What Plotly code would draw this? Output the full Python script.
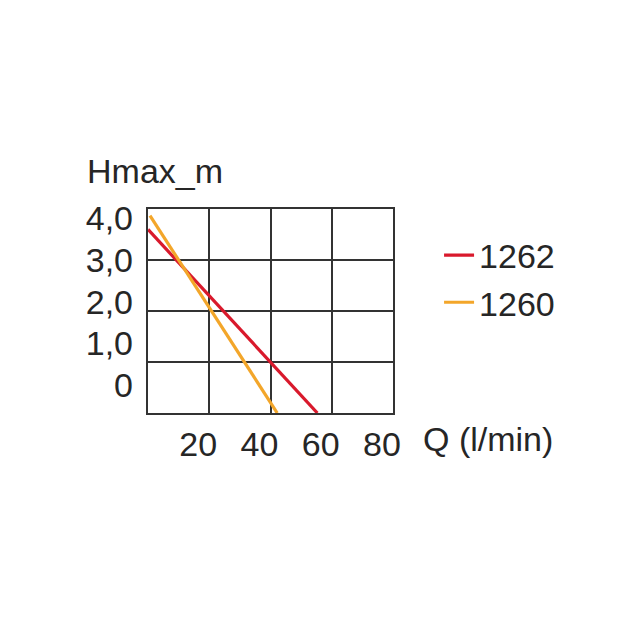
import plotly.graph_objects as go

# Data
series_names = ["1262", "1260"]
q_1262 = [0, 55.3]
h_1262 = [3.6, 0]
q_1260 = [0.65, 42.2]
h_1260 = [3.87, 0]

x_tickvals = [20, 40, 60, 80]
x_ticktext = ["20", "40", "60", "80"]
y_grid = [0, 1, 2, 3, 4]
y_label_vals = [0, 1, 2, 3, 4]
y_label_text = ["0", "1,0", "2,0", "3,0", "4,0"]

RED = "#d9192c"
ORANGE = "#f3a62a"
TXT = "#262626"
GRID = "#333333"
FONT = "Liberation Sans, Arial, sans-serif"
FS = 34

fig = go.Figure()
fig.add_trace(go.Scatter(x=q_1262, y=h_1262, mode="lines", name=series_names[0],
                         line=dict(color=RED, width=3.2), hoverinfo="skip"))
fig.add_trace(go.Scatter(x=q_1260, y=h_1260, mode="lines", name=series_names[1],
                         line=dict(color=ORANGE, width=3.2), hoverinfo="skip"))
# invisible trace to carry the label axis
fig.add_trace(go.Scatter(x=[None], y=[None], yaxis="y2", showlegend=False,
                         hoverinfo="skip"))

fig.update_layout(
    width=630, height=630,
    margin=dict(l=140, r=245, t=201, b=225),
    paper_bgcolor="white", plot_bgcolor="white",
    font=dict(family=FONT, size=FS, color=TXT),
    xaxis=dict(range=[0, 80], tickmode="array", tickvals=x_tickvals, ticktext=x_ticktext,
               showgrid=True, gridcolor=GRID, gridwidth=2,
               showline=True, linecolor=GRID, linewidth=2, mirror=True,
               ticks="", zeroline=False, ticklabelshift=-11, ticklabelstandoff=0,
               fixedrange=True),
    yaxis=dict(range=[0, 4], tickmode="array", tickvals=y_grid,
               showgrid=True, gridcolor=GRID, gridwidth=2, showticklabels=False,
               showline=True, linecolor=GRID, linewidth=2, mirror=True,
               ticks="", zeroline=False, fixedrange=True),
    yaxis2=dict(overlaying="y", side="left", range=[-0.667, 4.22],
                tickmode="array", tickvals=y_label_vals, ticktext=y_label_text,
                showgrid=False, zeroline=False, showline=False, ticks="",
                ticklabelstandoff=14, fixedrange=True),
    legend=dict(x=1.188, xanchor="left", y=0.657, yanchor="middle",
                font=dict(family=FONT, size=FS, color=TXT),
                bgcolor="rgba(0,0,0,0)", tracegroupgap=0),
    annotations=[
        dict(text="Hmax_m", xref="paper", yref="paper", x=-0.257, y=1.186,
             xanchor="left", yanchor="middle", showarrow=False,
             font=dict(family=FONT, size=FS, color=TXT)),
        dict(text="Q (l/min)", xref="paper", yref="paper", x=1.115, y=-0.127,
             xanchor="left", yanchor="middle", showarrow=False,
             font=dict(family=FONT, size=FS, color=TXT)),
    ],
    showlegend=True,
)

fig.write_html("out.html")
